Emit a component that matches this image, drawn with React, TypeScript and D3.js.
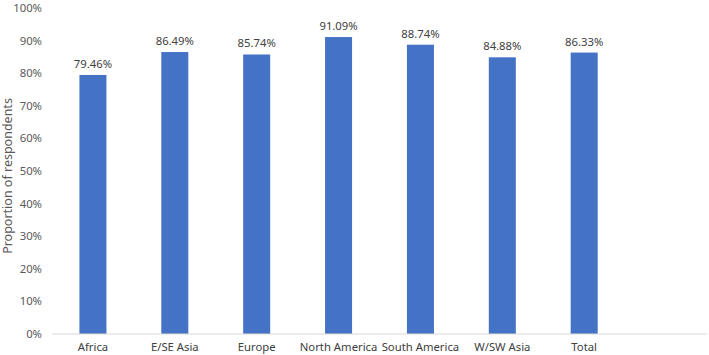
import React from "react";
import * as d3 from "d3";

const categories = ["Africa", "E/SE Asia", "Europe", "North America", "South America", "W/SW Asia", "Total", ""];
const values = [79.46, 86.49, 85.74, 91.09, 88.74, 84.88, 86.33];
const yTicks = [0, 10, 20, 30, 40, 50, 60, 70, 80, 90, 100];

const W = 709, H = 355;
const M = { left: 52, right: 2, top: 8, bottom: 21 };
const FONT = "'Noto Sans', 'Open Sans', sans-serif";
const FS = 11.3;

export default function App() {
  const x = d3.scaleBand<string>().domain(categories.map((c, i) => String(i))).range([M.left, W - M.right]).paddingInner(0.67).paddingOuter(0.335);
  const y = d3.scaleLinear().domain([0, 100]).range([H - M.bottom, M.top]);
  return (
    <svg width={W} height={H} style={{ position: "absolute", left: 0, top: 0, background: "#fff" }} fontFamily={FONT}>
      {yTicks.map((t) => (
        <text key={t} x={42} y={y(t)} dy="0.35em" textAnchor="end" fontSize={FS} fill="#595959">{t}%</text>
      ))}
      <text transform={`translate(8,176) rotate(-90)`} textAnchor="middle" dy="0.35em" fontSize={12.5} fill="#595959">Proportion of respondents</text>
      {values.map((v, i) => (
        <g key={i}>
          <rect x={x(String(i))} y={y(v)} width={x.bandwidth()} height={y(0) - y(v)} fill="#4472C4" />
          <text x={x(String(i))! + x.bandwidth() / 2} y={y(v) - 7} textAnchor="middle" fontSize={FS} fill="#404040">{v.toFixed(2)}%</text>
        </g>
      ))}
      <line x1={M.left} x2={W - M.right} y1={y(0)} y2={y(0)} stroke="#D9D9D9" />
      {categories.map((c, i) => c ? (
        <text key={i} x={x(String(i))! + x.bandwidth() / 2} y={y(0) + 13} dy="0.35em" textAnchor="middle" fontSize={FS} fill="#404040">{c}</text>
      ) : null)}
    </svg>
  );
}
